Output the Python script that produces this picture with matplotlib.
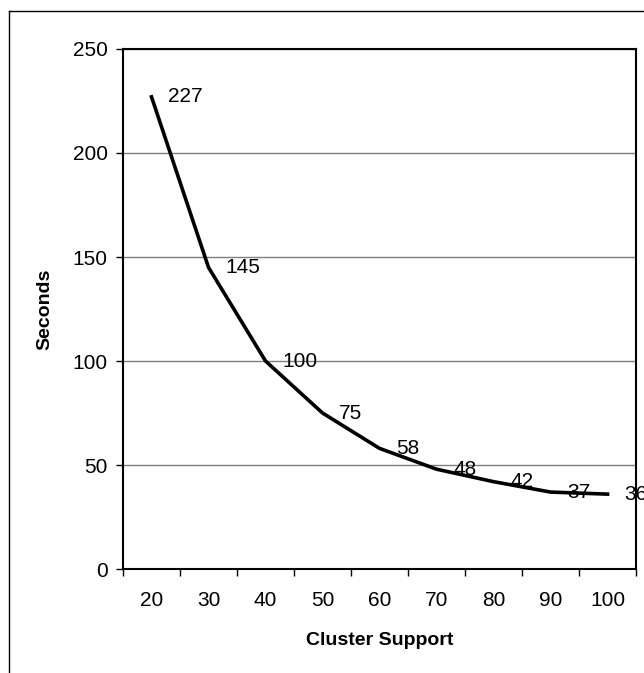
import matplotlib.pyplot as plt
from matplotlib.lines import Line2D
import numpy as np

support = [20, 30, 40, 50, 60, 70, 80, 90, 100]
seconds = [227, 145, 100, 75, 58, 48, 42, 37, 36]

plt.rcParams["font.family"] = ["Liberation Sans", "DejaVu Sans"]

fig = plt.figure(figsize=(6.44, 6.73), dpi=100)
ax = fig.add_axes([0.191, 0.1545, 0.7966, 0.7727])

x = np.arange(len(support))
ax.plot(x, seconds, color="black", linewidth=2.6, solid_joinstyle="round", zorder=3)
for xi, yi in zip(x, seconds):
    ax.annotate(str(yi), (xi, yi), xytext=(12, 0), textcoords="offset points",
                ha="left", va="center", fontsize=15, annotation_clip=False, zorder=4)

ax.set_xlim(-0.5, len(support) - 0.5)
ax.set_ylim(0, 250)
ax.set_yticks(range(0, 251, 50))
ax.set_xticks(x)
ax.set_xticklabels(support)
ax.set_xticks(np.arange(-0.5, len(support), 1), minor=True)
ax.tick_params(axis="x", which="major", length=0, labelsize=15, pad=16)
ax.tick_params(axis="x", which="minor", length=5, width=1, direction="out")
ax.tick_params(axis="y", length=5, width=1, labelsize=15, pad=6)

ax.yaxis.grid(True, color="#7f7f7f", linewidth=1)
ax.set_axisbelow(True)
for s in ax.spines.values():
    s.set_linewidth(1.5)
    s.set_color("black")

ax.set_xlabel("Cluster Support", fontsize=14, fontweight="bold", labelpad=16)
ax.set_ylabel("Seconds", fontsize=14, fontweight="bold", labelpad=14)

# outer chart frame
fig.add_artist(Line2D([9 / 644, 9 / 644], [0, 1 - 11 / 673], color="black", linewidth=1))
fig.add_artist(Line2D([9 / 644, 1], [1 - 11 / 673, 1 - 11 / 673], color="black", linewidth=1))

fig.savefig("out.png", dpi=100)
